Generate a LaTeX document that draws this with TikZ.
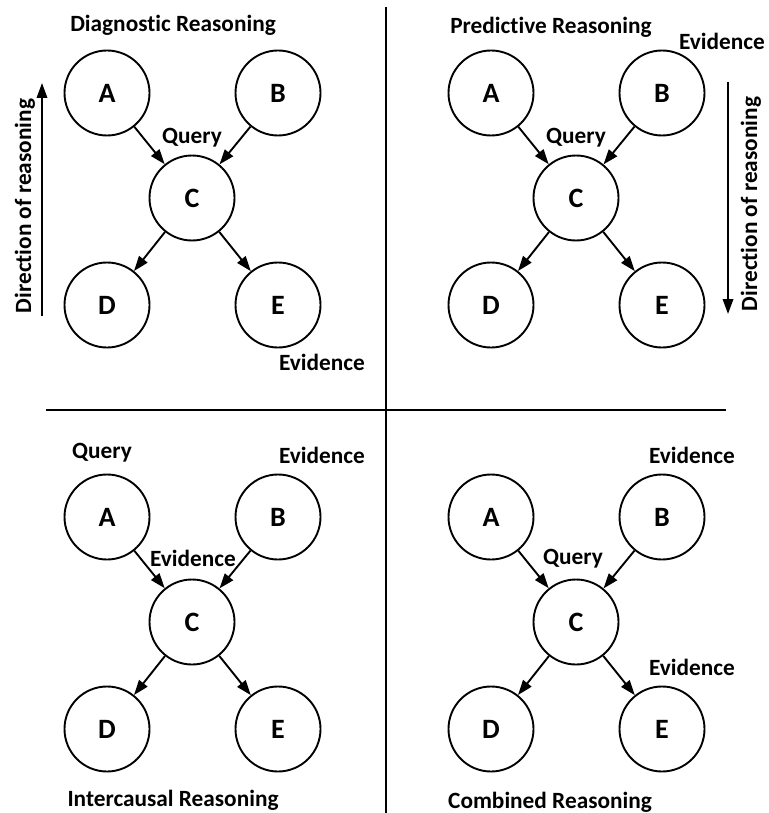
\documentclass[tikz,border=0pt]{standalone}
\usepackage{fontspec}
\setmainfont{Carlito}[Ligatures=NoCommon]
\usetikzlibrary{arrows.meta}
\begin{document}
\begin{tikzpicture}[x=1pt,y=-1pt,
  var/.style={circle,draw,line width=1.9pt,minimum size=85pt,inner sep=0pt,font=\bfseries\fontsize{28}{32}\selectfont},
  edge/.style={line width=1.9pt,-{Triangle[length=15pt,width=10.5pt]}},
  lbl/.style={font=\bfseries\fontsize{23.3}{27}\selectfont,inner sep=0pt},
  divider/.style={line width=2.6pt}]
\useasboundingbox (0,0) rectangle (768,813);

\newcommand\bnet{%
  \node[var] (A) at (107,93) {A};
  \node[var] (B) at (278,93) {B};
  \node[var] (C) at (192,198) {C};
  \node[var] (D) at (107,305) {D};
  \node[var] (E) at (278,305) {E};
  \draw[edge] (A) -- (C);
  \draw[edge] (B) -- (C);
  \draw[edge] (C) -- (D);
  \draw[edge] (C) -- (E);
}

% diagnostic reasoning
\begin{scope}[name prefix=dg-]
  \bnet
  \node[lbl] (title) at (173,25) {Diagnostic Reasoning};
  \node[lbl] (q) at (192,138) {Query};
  \node[lbl] (ev) at (322,362) {Evidence};
  \coordinate (d0) at (42,316);
  \coordinate (d1) at (42,83);
  \draw[edge] (d0) -- (d1);
  \node[lbl,rotate=90] (dir) at (25,206) {Direction of reasoning};
\end{scope}

% predictive reasoning
\begin{scope}[shift={(384,0)},name prefix=pr-]
  \bnet
  \node[lbl] (title) at (167,27) {Predictive Reasoning};
  \node[lbl] (q) at (192,138) {Query};
  \node[lbl] (ev) at (338,41) {Evidence};
  \coordinate (d0) at (344,82);
  \coordinate (d1) at (344,314);
  \draw[edge] (d0) -- (d1);
  \node[lbl,rotate=90] (dir) at (367,204) {Direction of reasoning};
\end{scope}

% intercausal reasoning
\begin{scope}[shift={(0,424)},name prefix=ic-]
  \bnet
  \node[lbl] (title) at (173,376) {Intercausal Reasoning};
  \node[lbl] (q) at (102,29) {Query};
  \node[lbl] (ev1) at (322,31) {Evidence};
  \node[lbl] (ev2) at (193,134) {Evidence};
\end{scope}

% combined reasoning
\begin{scope}[shift={(384,424)},name prefix=cb-]
  \bnet
  \node[lbl] (title) at (166,378) {Combined Reasoning};
  \node[lbl] (q) at (189,135) {Query};
  \node[lbl] (ev1) at (308,31) {Evidence};
  \node[lbl] (ev2) at (308,243) {Evidence};
\end{scope}

% panel dividers
\coordinate (vt) at (386,7);
\coordinate (vb) at (386,813);
\coordinate (hl) at (46,410);
\coordinate (hr) at (726,410);
\draw[divider] (vt) -- (vb);
\draw[divider] (hl) -- (hr);
\end{tikzpicture}
\end{document}
